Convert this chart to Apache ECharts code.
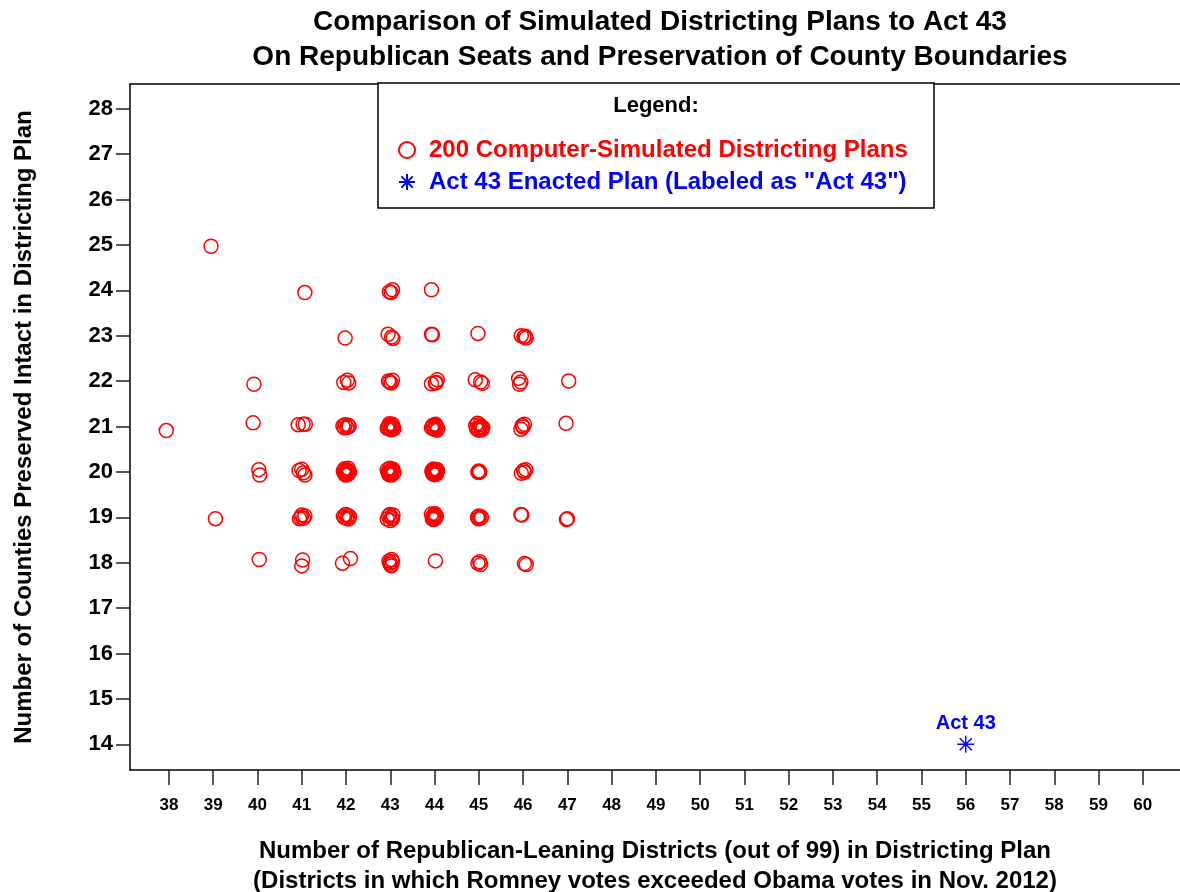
<!DOCTYPE html>
<html>
<head>
<meta charset="utf-8">
<script src="https://cdn.jsdelivr.net/npm/echarts@6/dist/echarts.min.js"></script>
<style>
  html, body { margin: 0; padding: 0; background: #fff; }
  #chart { width: 1180px; height: 892px; }
</style>
</head>
<body>
<div id="chart"></div>
<script>
// Simulated plans: [Republican-leaning districts, counties preserved intact], jittered so overlaps show
const simulatedPlans = [
  [38.95, 24.97],
  [41.07, 23.95], [42.98, 23.97], [43.05, 24.01], [43.02, 23.95], [43.93, 24.01],
  [41.98, 22.95], [42.95, 23.03], [43.06, 22.94], [43.03, 22.97], [43.93, 23.03], [43.95, 23.02],
  [44.98, 23.05], [45.96, 23.00], [46.02, 22.97], [46.07, 22.95], [46.05, 22.99],
  [39.92, 21.93], [41.95, 21.97], [42.03, 22.02], [42.06, 21.96], [42.96, 22.00], [43.02, 21.96],
  [43.05, 22.02], [42.99, 21.98], [43.93, 21.94], [44.02, 21.96], [44.06, 22.03], [44.04, 21.97],
  [44.92, 22.03], [45.04, 21.98], [45.08, 21.95], [45.90, 22.06], [45.92, 21.93], [45.95, 21.98],
  [47.03, 22.00],
  [37.94, 20.91], [39.90, 21.08], [40.92, 21.04], [41.03, 21.05], [41.08, 21.05],
  [41.93, 21.01], [41.98, 21.04], [42.02, 20.98], [42.05, 21.03], [42.07, 21.00], [41.96, 20.97],
  [42.94, 20.97], [42.98, 21.06], [43.00, 20.94], [43.03, 21.02], [43.06, 20.98], [42.96, 21.00],
  [43.08, 20.95], [43.02, 20.93], [42.99, 21.03], [43.05, 21.05], [42.93, 20.96], [43.04, 20.99],
  [43.93, 20.97], [43.97, 21.03], [44.00, 20.94], [44.04, 20.99], [44.07, 20.96], [43.95, 21.01],
  [44.02, 21.05], [44.06, 20.92], [43.98, 20.95], [44.03, 21.02],
  [44.93, 21.02], [44.97, 21.07], [45.00, 20.96], [45.04, 20.98], [45.07, 20.93], [44.95, 20.95],
  [45.02, 21.04], [45.09, 20.98], [44.99, 20.92], [45.05, 21.00],
  [45.95, 20.94], [46.00, 20.99], [46.03, 21.05], [45.98, 21.02], [46.97, 21.07],
  [40.03, 20.05], [40.05, 19.93], [40.94, 20.03], [41.00, 20.06], [41.04, 19.98], [41.07, 19.93],
  [41.94, 20.02], [41.97, 20.07], [42.00, 19.96], [42.03, 20.04], [42.06, 19.98], [41.99, 19.93],
  [42.05, 20.08], [42.08, 20.00], [41.96, 19.97], [42.02, 20.01], [42.04, 19.94], [42.01, 20.05],
  [42.93, 20.05], [42.96, 19.97], [42.99, 20.08], [43.02, 19.95], [43.05, 20.02], [43.08, 19.98],
  [42.95, 20.00], [43.00, 20.03], [43.03, 19.93], [43.06, 20.06], [42.97, 19.94], [43.01, 20.00],
  [43.04, 20.04], [42.98, 19.99],
  [43.94, 20.02], [43.96, 19.96], [43.98, 20.05], [44.00, 19.98], [44.02, 20.04], [44.04, 19.95],
  [44.06, 20.01], [43.95, 19.99], [43.97, 20.06], [43.99, 19.94], [44.01, 20.00], [44.03, 20.03],
  [44.05, 19.97], [43.96, 20.03], [44.00, 20.06], [44.04, 20.00], [43.98, 19.97], [44.02, 19.95],
  [44.06, 20.05],
  [44.99, 20.01], [45.00, 20.00], [45.01, 19.99], [45.00, 20.02], [44.98, 19.99], [45.02, 20.00],
  [45.96, 19.97], [46.01, 20.03], [46.06, 20.05], [46.03, 19.99],
  [39.05, 18.97], [40.95, 18.97], [41.00, 19.05], [41.04, 18.98], [41.07, 19.03], [40.98, 19.00],
  [41.94, 19.02], [41.99, 19.06], [42.02, 18.98], [42.06, 18.96], [42.04, 19.04], [41.97, 18.99],
  [42.08, 19.01], [42.93, 18.96], [42.96, 19.03], [43.00, 18.93], [43.03, 19.00], [43.06, 19.05],
  [42.99, 19.06], [43.05, 18.97], [43.93, 19.07], [43.96, 19.00], [43.98, 18.95], [44.00, 19.05],
  [44.02, 18.98], [44.04, 19.02], [43.95, 18.97], [44.01, 19.08], [43.97, 19.04],
  [44.97, 19.00], [45.00, 19.03], [45.03, 18.98], [45.06, 19.00], [44.99, 18.97],
  [45.95, 19.06], [45.97, 19.05], [46.98, 18.95], [47.00, 18.97],
  [40.04, 18.07], [41.02, 18.06], [41.00, 17.93], [41.92, 17.99], [42.10, 18.09],
  [42.97, 18.04], [43.00, 17.96], [43.03, 18.07], [42.99, 18.00], [43.02, 17.93], [43.05, 18.02],
  [44.02, 18.04], [44.98, 17.99], [45.02, 18.02], [45.04, 17.96], [46.03, 17.98], [46.07, 17.96]
];

// Enacted plan
const act43Plan = [[56, 14]];
const act43Label = 'Act 43';

// Axis ticks
const seatTicks = [38, 39, 40, 41, 42, 43, 44, 45, 46, 47, 48, 49, 50, 51, 52, 53, 54, 55, 56, 57, 58, 59, 60];
const countyTicks = [14, 15, 16, 17, 18, 19, 20, 21, 22, 23, 24, 25, 26, 27, 28];

const simName = '200 Computer-Simulated Districting Plans';
const actName = 'Act 43 Enacted Plan (Labeled as "Act 43")';
const FONT = 'Liberation Sans, Arial, sans-serif';
const asterisk = 'path://M0,-10L0,10M-10,0L10,0M-7.07,-7.07L7.07,7.07M-7.07,7.07L7.07,-7.07';

const chart = echarts.init(document.getElementById('chart'), null, { renderer: 'canvas' });

chart.setOption({
  backgroundColor: '#fff',
  animation: false,
  title: {
    text: 'Comparison of Simulated Districting Plans to Act 43\nOn Republican Seats and Preservation of County Boundaries',
    left: 655,
    top: 0,
    textAlign: 'center',
    textStyle: { fontFamily: FONT, fontWeight: 'bold', fontSize: 28, lineHeight: 35, color: '#000' }
  },
  grid: { left: 130, top: 84, right: 0, bottom: 122, containLabel: false, outerBoundsMode: 'none' },
  xAxis: [{
    type: 'value',
    min: 37.12,
    max: 60.84,
    name: 'Number of Republican-Leaning Districts (out of 99) in Districting Plan\n(Districts in which Romney votes exceeded Obama votes in Nov. 2012)',
    nameLocation: 'middle',
    nameGap: 66,
    nameTextStyle: { fontFamily: FONT, fontWeight: 'bold', fontSize: 24, lineHeight: 30, color: '#000' },
    splitLine: { show: false },
    axisLine: { show: true, onZero: false, lineStyle: { color: '#000', width: 1.5 } },
    axisTick: { show: true, length: 15, customValues: seatTicks, lineStyle: { color: '#222', width: 1.5 } },
    axisLabel: { customValues: seatTicks, margin: 27, fontFamily: FONT, fontWeight: 'bold', fontSize: 17, color: '#000' }
  }, {
    type: 'value',
    position: 'top',
    min: 37.12,
    max: 60.84,
    splitLine: { show: false },
    axisLine: { show: true, onZero: false, lineStyle: { color: '#000', width: 1.5 } },
    axisTick: { show: false },
    axisLabel: { show: false }
  }],
  yAxis: {
    type: 'value',
    min: 13.434,
    max: 28.544,
    name: 'Number of Counties Preserved Intact in Districting Plan',
    nameLocation: 'middle',
    nameRotate: 90,
    nameGap: 94,
    nameTextStyle: { fontFamily: FONT, fontWeight: 'bold', fontSize: 24, color: '#000' },
    splitLine: { show: false },
    axisLine: { show: true, onZero: false, lineStyle: { color: '#000', width: 1.5 } },
    axisTick: { show: true, length: 14, customValues: countyTicks, lineStyle: { color: '#222', width: 1.5 } },
    axisLabel: { customValues: countyTicks, margin: 17, fontFamily: FONT, fontWeight: 'bold', fontSize: 22, color: '#000' }
  },
  graphic: [
    {
      type: 'rect',
      shape: { x: 378, y: 83, width: 556, height: 125 },
      style: { fill: '#fff', stroke: '#000', lineWidth: 1.5 },
      z: 5
    },
    {
      type: 'text',
      x: 656, y: 106,
      style: { text: 'Legend:', fontFamily: FONT, fontWeight: 'bold', fontSize: 22, fill: '#000', align: 'center', verticalAlign: 'middle' },
      z: 6
    }
  ],
  legend: {
    orient: 'vertical',
    left: 393,
    top: 133,
    itemGap: 8,
    itemWidth: 16,
    itemHeight: 16,
    z: 10,
    data: [
      { name: simName, icon: 'circle', textStyle: { color: '#ff0000' } },
      { name: actName, icon: asterisk, textStyle: { color: '#0000ff' } }
    ],
    textStyle: { fontFamily: FONT, fontWeight: 'bold', fontSize: 24, padding: [0, 0, 0, 9] }
  },
  series: [
    {
      name: simName,
      type: 'scatter',
      data: simulatedPlans,
      symbol: 'circle',
      symbolSize: 14,
      itemStyle: { color: 'rgba(0,0,0,0)', borderColor: '#ff0000', borderWidth: 1.5, opacity: 1 },
      emphasis: { disabled: true }
    },
    {
      name: actName,
      type: 'scatter',
      data: act43Plan,
      symbol: asterisk,
      symbolSize: 17,
      itemStyle: { color: 'rgba(0,0,0,0)', borderColor: '#0000ff', borderWidth: 1.4, opacity: 1 },
      label: {
        show: true,
        position: 'top',
        distance: 2,
        formatter: act43Label,
        fontFamily: FONT, fontWeight: 'bold', fontSize: 20, color: '#0000ff'
      },
      emphasis: { disabled: true }
    }
  ]
});
</script>
</body>
</html>
